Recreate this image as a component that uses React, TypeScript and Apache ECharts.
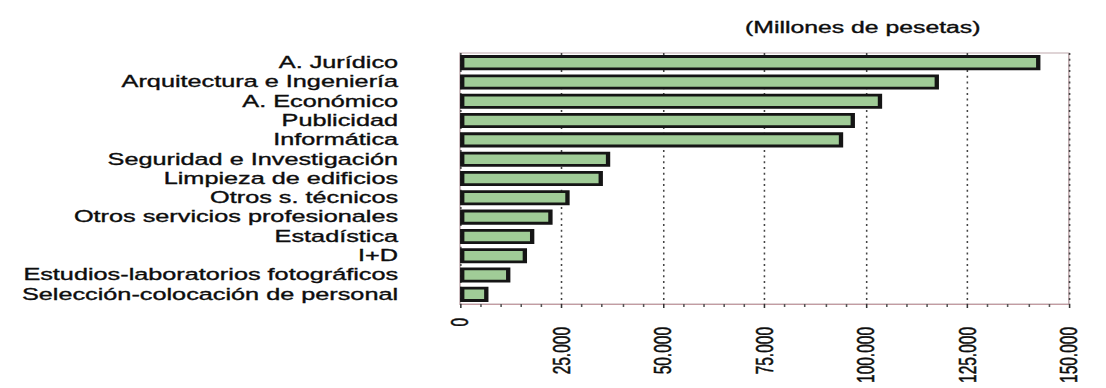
import React, { useEffect, useRef } from "react";
import * as echarts from "echarts";

// Contract spending by service type (millions of pesetas)
const categories: string[] = [
  "A. Jurídico",
  "Arquitectura e Ingeniería",
  "A. Económico",
  "Publicidad",
  "Informática",
  "Seguridad e Investigación",
  "Limpieza de edificios",
  "Otros s. técnicos",
  "Otros servicios profesionales",
  "Estadística",
  "I+D",
  "Estudios-laboratorios fotográficos",
  "Selección-colocación de personal",
];

const values: number[] = [
  143000, 118000, 104000, 97300, 94400, 37000, 35200, 27000, 22800, 18300,
  16500, 12400, 7000,
];

const unitsLabel = "(Millones de pesetas)";
const axisMax = 150000;
const axisStep = 25000;

// The drawing is laid out on a narrower canvas and stretched horizontally.
const OUT_W = 1106;
const OUT_H = 388;
const INNER_W = 714;
const STRETCH = OUT_W / INNER_W;

const FONT = "'Liberation Sans', Arial, Helvetica, sans-serif";
const INK = "#0d0d0d";

const withDots = (v: number): string =>
  String(v).replace(/\B(?=(\d{3})+(?!\d))/g, ".");

export default function App() {
  const ref = useRef<HTMLDivElement | null>(null);

  useEffect(() => {
    document.body.style.margin = "0";
    if (!ref.current) return;
    const chart = echarts.init(ref.current, undefined, { renderer: "svg" });

    chart.setOption({
      animation: false,
      backgroundColor: "#ffffff",
      graphic: [
        {
          type: "text",
          x: 557,
          y: 27,
          style: {
            text: unitsLabel,
            font: `normal 16px ${FONT}`,
            fill: INK,
            stroke: INK,
            lineWidth: 0.35,
            textAlign: "center",
            textVerticalAlign: "middle",
          },
        },
      ],
      grid: {
        left: 297,
        right: 24,
        top: 53,
        bottom: 84,
        show: true,
        borderColor: "#bfa9ad",
        borderWidth: 1,
        backgroundColor: "transparent",
      },
      xAxis: {
        type: "value",
        min: 0,
        max: axisMax,
        interval: axisStep,
        axisLine: { show: true, lineStyle: { color: "#c39ca2", width: 1 } },
        axisTick: { show: true, length: 4, lineStyle: { color: "#333" } },
        minorTick: {
          show: true,
          splitNumber: 5,
          length: 3,
          lineStyle: { color: "#555" },
        },
        splitLine: {
          show: true,
          lineStyle: { color: "#444", width: 1, type: [2, 3.7] },
        },
        axisLabel: {
          rotate: 90,
          margin: 14,
          formatter: (v: number) =>
            v === 0 ? "{z|0}" : `{n|${withDots(v)}}`,
          rich: {
            z: {
              fontSize: 15.5,
              fontFamily: FONT,
              color: INK,
              textBorderColor: INK,
              textBorderWidth: 0.35,
            },
            n: {
              fontSize: 15.5,
              fontFamily: FONT,
              color: INK,
              textBorderColor: INK,
              textBorderWidth: 0.35,
              padding: [0, 9, 0, 0],
            },
          },
        },
      },
      yAxis: {
        type: "category",
        inverse: true,
        data: categories,
        axisLine: { show: false },
        axisTick: { show: false },
        splitLine: { show: false },
        axisLabel: {
          interval: 0,
          margin: 40,
          fontSize: 16.3,
          fontFamily: FONT,
          color: INK,
          textBorderColor: INK,
          textBorderWidth: 0.35,
        },
      },
      series: [
        {
          type: "bar",
          data: values,
          barCategoryGap: "22%",
          itemStyle: {
            color: "#a0cc97",
            borderColor: "#151515",
            borderWidth: 2.8,
          },
        },
      ],
    });

    return () => chart.dispose();
  }, []);

  return (
    <div
      style={{
        width: OUT_W,
        height: OUT_H,
        overflow: "hidden",
        background: "#ffffff",
      }}
    >
      <div
        ref={ref}
        style={{
          width: INNER_W,
          height: OUT_H,
          transform: `scaleX(${STRETCH})`,
          transformOrigin: "0 0",
        }}
      />
    </div>
  );
}
